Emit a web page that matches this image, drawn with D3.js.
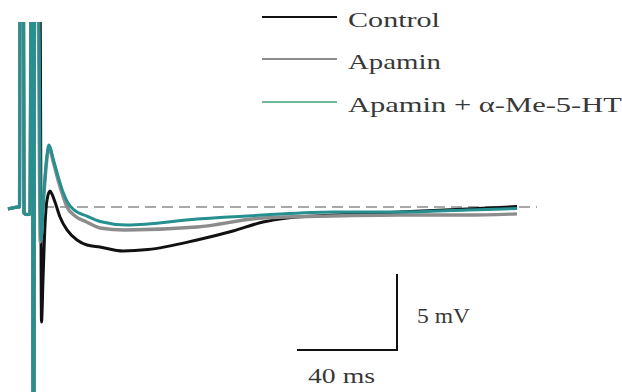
<!DOCTYPE html>
<html>
<head>
<meta charset="utf-8">
<script src="https://cdn.jsdelivr.net/npm/d3@7"></script>
<style>
  body { margin: 0; background: #fff; }
  text { font-family: "Liberation Serif", "Times New Roman", serif; fill: #383838; }
</style>
</head>
<body>
<svg width="622" height="392"></svg>
<script>
const width = 622
const height = 392

// time (ms) vs membrane potential (mV); stimulus artifacts run off scale
const seriesNames = ["Control", "Apamin", "Apamin + α-Me-5-HT"]

const stimulus = [[0, -0.13], [1.6, -0.07], [4, 0], [4.6, 0], [4.8, 14], [6.2, 14], [6.4, -0.4],
  [7.6, -0.5], [8.8, -0.45], [9.2, 14], [9.8, 14], [10.0, -13], [10.4, -13], [10.6, 14]]

const control = [[12.8, 14], [13.4, -7.57], [14, -4.8], [14.8, -1.18], [15.6, 0.46], [16.8, 1.05],
  [17.6, 0.85], [18.8, 0.33], [20.8, -0.66], [23.6, -1.51], [27.6, -2.17], [31.6, -2.5], [36.8, -2.63],
  [46, -2.89], [56, -2.8], [75.6, -2.17], [90, -1.58], [102, -0.99], [111.6, -0.72], [130, -0.53],
  [156.8, -0.33], [183.6, -0.13], [203.6, 0.03]]

const apamin = [[12.0, 14], [12.9, -2.3], [14.4, 0.9], [15.6, 3.2], [16.4, 3.95], [18, 3.03],
  [20, 1.78], [22, 0.72], [23.6, 0], [26.8, -0.59], [31.6, -1.0], [36.8, -1.38], [46.8, -1.51],
  [75.6, -1.32], [102, -0.72], [130, -0.59], [156.8, -0.53], [183.6, -0.53], [203.6, -0.45]]

const apaminHT = [[12.2, 14], [13.2, -2.17], [14.4, 1.12], [15.6, 3.42], [16.4, 4.08], [18, 3.22],
  [20, 2.04], [22, 0.99], [24, 0.26], [26, -0.13], [31.6, -0.6], [36.8, -0.95], [47.6, -1.18],
  [75.6, -0.79], [102, -0.53], [130, -0.33], [156.8, -0.33], [183.6, -0.2], [203.6, -0.1]]

const baselineRange = [14, 211.6]
const scaleBarMs = 40
const scaleBarMv = 5

const x = d3.scaleLinear().domain([0, 204]).range([8, 518])
const y = d3.scaleLinear().domain([-12, 12]).range([389.4, 24.6])

const svg = d3.select("svg")

svg.append("clipPath").attr("id", "clip")
  .append("rect").attr("x", 0).attr("y", 22).attr("width", width).attr("height", height - 22)

// dashed baseline
svg.append("line")
  .attr("x1", x(baselineRange[0])).attr("x2", x(baselineRange[1]))
  .attr("y1", y(0)).attr("y2", y(0))
  .attr("stroke", "#a8a8a8").attr("stroke-width", 2)
  .attr("stroke-dasharray", "11,6")

const line = d3.line()
  .x(d => x(d[0]))
  .y(d => y(d[1]))
  .curve(d3.curveMonotoneX)

const traces = [
  {name: seriesNames[0], data: stimulus.concat(control), color: "#111", w: 3},
  {name: seriesNames[1], data: stimulus.concat(apamin), color: "#8c8c8c", w: 3.4},
  {name: seriesNames[2], data: stimulus.concat(apaminHT), color: "#25908f", w: 3}
]

svg.append("g").attr("clip-path", "url(#clip)")
  .selectAll("path")
  .data(traces)
  .join("path")
  .attr("d", d => line(d.data))
  .attr("fill", "none")
  .attr("stroke", d => d.color)
  .attr("stroke-width", d => d.w)
  .attr("stroke-linejoin", "round")

// legend
const legendColors = ["#111", "#8c8c8c", "#6db896"]
const legendY = [17, 59, 102]
const legendLen = [92, 93, 274]
const legend = svg.append("g")
legend.selectAll("line")
  .data(seriesNames)
  .join("line")
  .attr("x1", 262).attr("x2", 337)
  .attr("y1", (d, i) => legendY[i]).attr("y2", (d, i) => legendY[i])
  .attr("stroke", (d, i) => legendColors[i])
  .attr("stroke-width", 2.2)
legend.selectAll("text")
  .data(seriesNames)
  .join("text")
  .attr("x", 348)
  .attr("y", (d, i) => legendY[i] + 10)
  .attr("font-size", 22)
  .attr("textLength", (d, i) => legendLen[i])
  .attr("lengthAdjust", "spacingAndGlyphs")
  .text(d => d)

// scale bar
const t0 = 115.6, v0 = -9.41
svg.append("path")
  .attr("d", `M${x(t0)},${y(v0)}H${x(t0 + scaleBarMs)}V${y(v0 + scaleBarMv)}`)
  .attr("fill", "none").attr("stroke", "#111").attr("stroke-width", 2)

svg.append("text")
  .attr("x", 417).attr("y", 323)
  .attr("font-size", 22)
  .attr("textLength", 53).attr("lengthAdjust", "spacingAndGlyphs")
  .text(scaleBarMv + " mV")

svg.append("text")
  .attr("x", 308).attr("y", 383)
  .attr("font-size", 22)
  .attr("textLength", 67).attr("lengthAdjust", "spacingAndGlyphs")
  .text(scaleBarMs + " ms")
</script>
</body>
</html>
